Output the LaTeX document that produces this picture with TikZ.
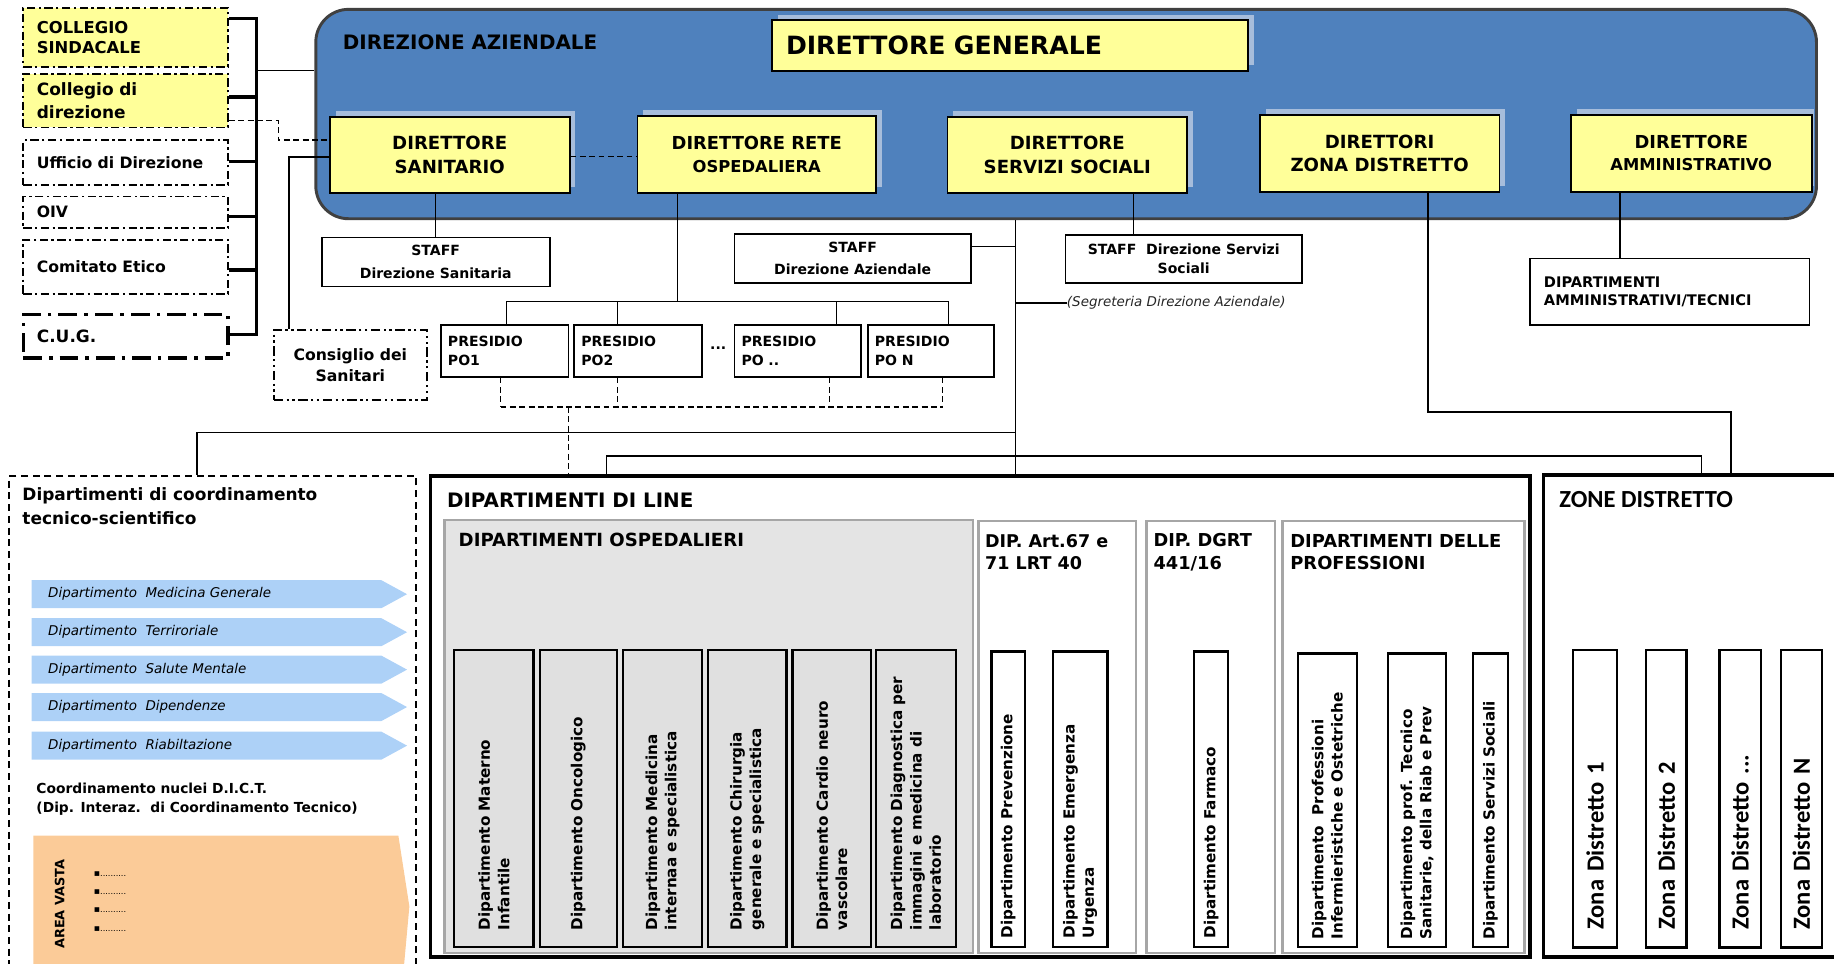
\documentclass[tikz,border=0pt]{standalone}
\usepackage{fontspec}
\setmainfont{DejaVu Sans}
\newfontfamily\calib{Carlito}
\newcommand\fsz[2]{\fontsize{#1}{#2}\selectfont}
\definecolor{dirblue}{HTML}{4F81BD}
\definecolor{ylw}{HTML}{FFFF99}
\definecolor{shd}{HTML}{A7BDDB}
\definecolor{arrb}{HTML}{ADD1F7}
\definecolor{orng}{HTML}{FBCB98}
\definecolor{ospg}{HTML}{E4E4E4}
\definecolor{vgr}{HTML}{E0E0E0}
\definecolor{bord}{HTML}{A6A6A6}
\begin{document}
\begin{tikzpicture}[x=1pt,y=-1pt,
  ybox/.style={draw=black,line width=1.5pt,fill=ylw,inner sep=0pt,align=center},
  wbox/.style={draw=black,line width=1.5pt,fill=white,inner sep=0pt,align=center},
  lbox/.style={draw=black,line width=1.6pt,inner sep=0pt,align=left,dash pattern=on 7pt off 3pt on 2pt off 3pt},
  conn/.style={draw=black,line width=1.1pt},
  brk/.style={draw=black,line width=3pt},
  dconn/.style={draw=black,line width=1.5pt,dash pattern=on 5pt off 3pt},
  vbox/.style={draw=black,line width=2pt,inner sep=0pt,rotate=90,align=left,font=\fsz{13}{16.5}\bfseries},
  zbox/.style={draw=black,line width=2pt,fill=white,inner sep=0pt,rotate=90,align=left,font=\calib\fsz{21}{24}\bfseries},
  secbox/.style={draw=bord,line width=2pt,fill=white,inner sep=0pt},
  ttl/.style={anchor=west,inner sep=0pt,align=left}
]
\useasboundingbox (0,0) rectangle (1568,824);
\clip (0,0) rectangle (1568,824);

% ---------- Direzione aziendale ----------
\node[draw=black!75,line width=2.5pt,fill=dirblue,rounded corners=28pt,minimum width=1283,minimum height=179,inner sep=0pt] (dirbox) at (911.5,97.5) {};
\node[ttl,font=\fsz{17}{20}\bfseries] (dirt) at (293,36) {DIREZIONE AZIENDALE};

\fill[shd] (665,13) rectangle (1072,56);
\fill[shd] (287,95) rectangle (492,160);
\fill[shd] (550,94) rectangle (754,160);
\fill[shd] (815,95) rectangle (1020,160);
\fill[shd] (1082,93) rectangle (1287,159);
\fill[shd] (1348,93) rectangle (1551,159);

\node[ybox,minimum width=407,minimum height=44,text width=383,align=left,font=\fsz{21.5}{24}\bfseries] (dg) at (863.5,39) {DIRETTORE GENERALE};
\node[ybox,minimum width=205,minimum height=65,font=\fsz{15.5}{20}\bfseries] (ds) at (384.5,132.5) {DIRETTORE\\SANITARIO};
\node[ybox,minimum width=204,minimum height=66,font=\fsz{15.3}{19}\bfseries] (dro) at (647,132) {DIRETTORE RETE\\{\fsz{14}{19}\bfseries OSPEDALIERA}};
\node[ybox,minimum width=205,minimum height=65,font=\fsz{15.5}{20}\bfseries] (dss) at (912.5,132.5) {DIRETTORE\\SERVIZI SOCIALI};
\node[ybox,minimum width=205,minimum height=66,font=\fsz{15.5}{20}\bfseries] (dzd) at (1179.5,131) {DIRETTORI\\ZONA DISTRETTO};
\node[ybox,minimum width=206,minimum height=66,font=\fsz{15.3}{18.5}\bfseries] (da) at (1446,131) {DIRETTORE\\{\fsz{14}{18}\bfseries AMMINISTRATIVO}};

% ---------- left column ----------
\node[lbox,fill=ylw,minimum width=175,minimum height=50,text width=152,font=\fsz{14}{17}\bfseries] (cs) at (107.5,32) {COLLEGIO\\SINDACALE};
\node[lbox,fill=ylw,minimum width=175,minimum height=46,text width=152,font=\fsz{14.5}{20}\bfseries] (cd) at (107.5,86) {Collegio di\\direzione};
\node[lbox,fill=white,minimum width=175,minimum height=38,text width=152,font=\fsz{13.4}{16}\bfseries] (uff) at (107.5,139) {Ufficio di Direzione};
\node[lbox,fill=white,minimum width=175,minimum height=27,text width=152,font=\fsz{13.4}{16}\bfseries] (oiv) at (107.5,181.5) {OIV};
\node[lbox,fill=white,minimum width=175,minimum height=46,text width=152,font=\fsz{13.4}{16}\bfseries] (ce) at (107.5,228) {Comitato Etico};
\node[lbox,fill=white,line width=3pt,dash pattern=on 16pt off 6pt on 3pt off 6pt,minimum width=175,minimum height=37,text width=152,font=\fsz{14.5}{17}\bfseries] (cug) at (107.5,287.5) {C.U.G.};

\coordinate (bt) at (219.5,16);
\coordinate (bb) at (219.5,286);
\draw[brk] (cs.east |- bt) -- (bt) -- (bb) -- (cug.east |- bb);
\draw[brk] (cd.east |- 0,83) -- (bt |- 0,83);
\draw[brk] (uff.east |- 0,138) -- (bt |- 0,138);
\draw[brk] (oiv.east |- 0,185) -- (bt |- 0,185);
\draw[brk] (ce.east |- 0,231) -- (bt |- 0,231);
\draw[conn] (bt |- 0,60) -- (dirbox.west |- 0,60);
\draw[dconn] (cd.east |- 0,103) -- (238,103) -- (238,120) -- (ds.west |- 0,120);

\node[draw=black,line width=1.5pt,dash pattern=on 8pt off 3pt on 2pt off 3pt on 2pt off 3pt,fill=white,minimum width=131,minimum height=60,inner sep=0pt,align=center,font=\fsz{13.4}{17.5}\bfseries] (cons) at (299.5,312) {Consiglio dei\\Sanitari};
\draw[conn,line width=1.5pt] (ds.west |- 0,134) -- (247,134) -- (cons.north -| 247,0);

\draw[dconn,line width=1.2pt] (ds.east |- 0,134) -- (dro.west |- 0,134);

% ---------- staff & presidi ----------
\node[wbox,minimum width=195,minimum height=42,font=\fsz{12}{20}\bfseries] (stds) at (372.5,224) {STAFF\\Direzione Sanitaria};
\draw[conn] (stds.north |- ds.south) -- (stds.north);

\node[wbox,minimum width=109,minimum height=44,text width=97,align=left,font=\fsz{12}{17}\bfseries] (po1) at (431.5,300) {PRESIDIO\\PO1};
\node[wbox,minimum width=109,minimum height=44,text width=97,align=left,font=\fsz{12}{17}\bfseries] (po2) at (545.5,300) {PRESIDIO\\PO2};
\node[wbox,minimum width=108,minimum height=44,text width=96,align=left,font=\fsz{12}{17}\bfseries] (pod) at (682,300) {PRESIDIO\\PO ..};
\node[wbox,minimum width=108,minimum height=44,text width=96,align=left,font=\fsz{12}{17}\bfseries] (pon) at (796,300) {PRESIDIO\\PO N};
\node[inner sep=0pt,font=\fsz{12}{14}\bfseries] (dots) at (614,298) {...};

\coordinate (pj) at (579,258);
\draw[conn] (dro.south -| pj) -- (pj);
\draw[conn] (433,258) -- (811,258);
\foreach \n/\x in {po1/433,po2/528,pod/715,pon/811} \draw[conn] (\x,258) -- (\n.north -| \x,0);
\foreach \n/\x in {po1/428,po2/528,pod/709,pon/806} \draw[dconn,line width=1.2pt] (\n.south -| \x,0) -- (\x,348);
\draw[dconn] (428,348) -- (806,348);

\node[wbox,minimum width=202,minimum height=42,font=\fsz{12}{19}\bfseries] (stda) at (729,221) {STAFF\\Direzione Aziendale};
\draw[conn] (stda.east |- 0,211) -- (868,211);

\node[inner sep=0pt,anchor=west,font=\fsz{11.5}{13}\itshape,text=black!85] (seg) at (912,259) {(Segreteria Direzione Aziendale)};
\draw[conn] (868,259) -- (seg.west);

\node[wbox,minimum width=202,minimum height=41,font=\fsz{12}{16}\bfseries] (stdss) at (1012,221.5) {STAFF\ \ Direzione Servizi\\Sociali};
\draw[conn] (dss.south -| 969,0) -- (stdss.north -| 969,0);

\node[wbox,minimum width=239,minimum height=57,text width=215,align=left,font=\fsz{12.5}{16}\bfseries] (dipamm) at (1427.5,249.5) {DIPARTIMENTI\\AMMINISTRATIVI/TECNICI};
\draw[conn] (da.south -| 1385,0) -- (dipamm.north -| 1385,0);

% ---------- lower containers ----------
\node[draw=black,line width=1.8pt,dash pattern=on 6pt off 4pt,minimum width=348,minimum height=430,inner sep=0pt] (coord) at (182,622) {};
\node[draw=black,line width=3pt,fill=white,minimum width=940,minimum height=411,inner sep=0pt] (dipline) at (838,612.5) {};
\node[draw=black,line width=3pt,fill=white,minimum width=290,minimum height=412,inner sep=0pt] (zone) at (1464.5,612) {};

\draw[conn] (dirbox.south -| 868,0) -- (dipline.north -| 868,0);
\draw[conn] (868,370) -- (168.5,370) -- (coord.north -| 168.5,0);
\draw[conn,line width=1.5pt] (dipline.north -| 518.6,0) -- (518.6,389.6) -- (1454.7,389.6) -- (zone.north -| 1454.7,0);
\draw[conn,line width=1.5pt] (dzd.south -| 1221,0) -- (1221,352) -- (1480,352) -- (zone.north -| 1480,0);
\draw[dconn,line width=1.2pt] (486,348) -- (dipline.north -| 486,0);

% ---------- coordinamento ----------
\node[anchor=north west,inner sep=0pt,align=left,font=\fsz{14.5}{20}\bfseries] (coordt) at (19,417) {Dipartimenti di coordinamento\\tecnico-scientifico};
\foreach \i/\yc/\t in {1/508/Medicina Generale,2/540.5/Terriroriale,3/572.5/Salute Mentale,4/604.5/Dipendenze,5/637.5/Riabiltazione}{
  \fill[arrb] (27,\yc-12) -- (326,\yc-12) -- (348,\yc) -- (326,\yc+12) -- (27,\yc+12) -- cycle;
  \node[anchor=west,inner sep=0pt,font=\fsz{11.5}{13}\itshape] (arr\i) at (41,\yc) {Dipartimento\ \ \t};
}
\node[ttl,font=\fsz{11.8}{16}\bfseries] (dict) at (31,683) {Coordinamento nuclei D.I.C.T.\\(Dip. Interaz.\ \ di Coordinamento Tecnico)};
\fill[orng] (28.5,714.5) -- (340.6,714.5) -- (350,775) -- (345,830) -- (28.5,830) -- cycle;
\node[rotate=90,inner sep=0pt,font=\fsz{11}{13}\bfseries] (av) at (51,773) {AREA VASTA};
\foreach \i/\yy in {1/747,2/762.6,3/778,4/794} \node[anchor=west,inner sep=0pt] (bl\i) at (80,\yy) {\fsz{8}{9}▪\fsz{7}{8}..........};

% ---------- dipartimenti di line ----------
\node[ttl,font=\fsz{17}{20}\bfseries] (diplt) at (382,427.5) {DIPARTIMENTI DI LINE};
\node[draw=bord,line width=2pt,fill=ospg,minimum width=452,minimum height=370.4,inner sep=0pt] (osp) at (606,629.8) {};
\node[ttl,font=\fsz{15.5}{19}\bfseries] (ospt) at (392,461.7) {DIPARTIMENTI OSPEDALIERI};

\node[vbox,fill=vgr,minimum width=253.4,minimum height=67.8,text width=225] (v1) at (422.3,682.7) {Dipartimento Materno\\Infantile};
\node[vbox,fill=vgr,minimum width=253.4,minimum height=66,text width=225] (v2) at (494.4,682.7) {Dipartimento Oncologico};
\node[vbox,fill=vgr,minimum width=253.4,minimum height=67.8,text width=225] (v3) at (566.5,682.7) {Dipartimento Medicina\\internaa e specialistica};
\node[vbox,fill=vgr,minimum width=253.4,minimum height=67.1,text width=225] (v4) at (638.85,682.7) {Dipartimento Chirurgia\\generale e specialistica};
\node[vbox,fill=vgr,minimum width=253.4,minimum height=67.2,text width=225] (v5) at (711.2,682.7) {Dipartimento Cardio neuro\\vascolare};
\node[vbox,fill=vgr,minimum width=253.4,minimum height=68.4,text width=225] (v6) at (783,682.7) {Dipartimento Diagnostica per\\immagini e medicina di\\laboratorio};

\node[secbox,minimum width=134.8,minimum height=369.8] (art) at (903.9,630.1) {};
\node[ttl,font=\fsz{15}{19.5}\bfseries] (artt) at (842,472) {DIP. Art.67 e\\71 LRT 40};
\node[vbox,fill=white,minimum width=252.4,minimum height=28.8,text width=238] (vprev) at (862,683.2) {Dipartimento Prevenzione};
\node[vbox,fill=white,minimum width=252.4,minimum height=46.8,text width=238] (vemer) at (923.4,683.2) {Dipartimento Emergenza\\Urgenza};

\node[secbox,minimum width=109.8,minimum height=369.8] (dgrt) at (1035.1,630.1) {};
\node[ttl,font=\fsz{15.2}{19.5}\bfseries] (dgrtt) at (986,472) {DIP. DGRT\\441/16};
\node[vbox,fill=white,minimum width=252.4,minimum height=29,text width=238] (vfarm) at (1035.5,683.2) {Dipartimento Farmaco};

\node[secbox,minimum width=206.8,minimum height=369.8] (prof) at (1200,630.1) {};
\node[ttl,font=\fsz{15.3}{19.5}\bfseries] (proft) at (1103,472) {DIPARTIMENTI DELLE\\PROFESSIONI};
\node[vbox,fill=white,minimum width=250.8,minimum height=50.3,text width=238] (vinf) at (1134.85,684) {Dipartimento\ \ Professioni\\Infermieristiche e Ostetriche};
\node[vbox,fill=white,minimum width=250.8,minimum height=49.7,text width=238] (vtec) at (1211.45,684) {Dipartimento prof. Tecnico\\Sanitarie, della Riab e Prev};
\node[vbox,fill=white,minimum width=250.8,minimum height=30.2,text width=238] (vsoc) at (1274.3,684) {Dipartimento Servizi Sociali};

% ---------- zone distretto ----------
\node[ttl,font=\calib\fsz{21}{24}\bfseries] (zonet) at (1333,427.5) {ZONE DISTRETTO};
\node[zbox,minimum width=254.2,minimum height=37.3,text width=224] (z1) at (1363.65,682.9) {Zona Distretto 1};
\node[zbox,minimum width=254.2,minimum height=34.7,text width=224] (z2) at (1424.65,682.9) {Zona Distretto 2};
\node[zbox,minimum width=254.2,minimum height=35.4,text width=224] (z3) at (1487.7,682.9) {Zona Distretto ...};
\node[zbox,minimum width=254.2,minimum height=35,text width=224] (zn) at (1540,682.9) {Zona Distretto N};
\end{tikzpicture}
\end{document}
